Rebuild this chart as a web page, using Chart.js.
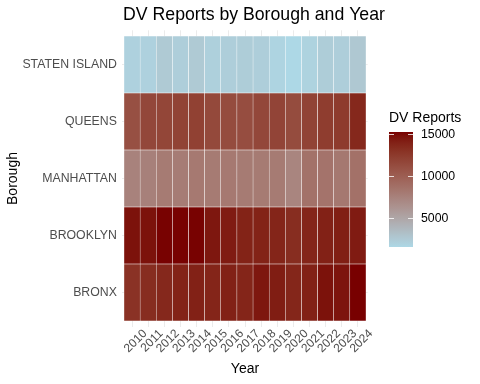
<!DOCTYPE html>
<html>
<head>
<meta charset="utf-8">
<script src="https://cdn.jsdelivr.net/npm/chart.js@4.4.0/dist/chart.umd.min.js"></script>
<style>
  html, body { margin: 0; padding: 0; background: #fff; }
</style>
</head>
<body>
<canvas id="graphCanvas" width="480" height="384"></canvas>
<script>
// data
var years = ["2010", "2011", "2012", "2013", "2014", "2015", "2016", "2017",
             "2018", "2019", "2020", "2021", "2022", "2023", "2024"];
var boroughs = ["BRONX", "BROOKLYN", "MANHATTAN", "QUEENS", "STATEN ISLAND"];

var bronx        = [13000, 13300, 13600, 13900, 14000, 13800, 14000, 13800, 14500, 14200, 13700, 14000, 14700, 14600, 15250];
var brooklyn     = [14700, 14700, 15200, 15200, 15200, 14500, 14300, 13900, 13900, 13800, 13300, 13800, 14000, 14100, 14300];
var manhattan    = [7500, 7600, 8000, 7900, 8100, 8000, 8100, 8000, 8000, 8000, 7300, 8600, 8500, 8200, 8700];
var queens       = [11000, 11600, 11700, 11900, 12000, 11500, 11300, 11200, 11600, 11800, 11300, 11900, 12300, 12400, 13600];
var statenIsland = [2000, 2000, 2500, 2200, 2500, 2100, 2200, 2300, 2200, 1800, 1550, 1900, 2300, 2200, 2600];

var legendTicks = [5000, 10000, 15000];

var series = [bronx, brooklyn, manhattan, queens, statenIsland];

// colour scale light blue -> dark red, interpolated in Lab like ggplot
var lowCol = [173, 216, 230];
var highCol = [120, 0, 0];

function toLin(c) { c = c / 255; return c <= 0.04045 ? c / 12.92 : Math.pow((c + 0.055) / 1.055, 2.4); }
function fromLin(c) {
  var v = c <= 0.0031308 ? 12.92 * c : 1.055 * Math.pow(c, 1 / 2.4) - 0.055;
  return Math.round(Math.max(0, Math.min(1, v)) * 255);
}
function labF(t) { return t > 0.008856 ? Math.cbrt(t) : 7.787 * t + 16 / 116; }
function labFi(t) { return t > 0.206893 ? t * t * t : (t - 16 / 116) / 7.787; }

function rgbToLab(c) {
  var r = toLin(c[0]), g = toLin(c[1]), b = toLin(c[2]);
  var x = (0.4124564 * r + 0.3575761 * g + 0.1804375 * b) / 0.95047;
  var y = (0.2126729 * r + 0.7151522 * g + 0.0721750 * b);
  var z = (0.0193339 * r + 0.1191920 * g + 0.9503041 * b) / 1.08883;
  var fx = labF(x), fy = labF(y), fz = labF(z);
  return [116 * fy - 16, 500 * (fx - fy), 200 * (fy - fz)];
}
function labToRgb(l) {
  var fy = (l[0] + 16) / 116, fx = fy + l[1] / 500, fz = fy - l[2] / 200;
  var x = labFi(fx) * 0.95047, y = labFi(fy), z = labFi(fz) * 1.08883;
  var r = 3.2404542 * x - 1.5371385 * y - 0.4985314 * z;
  var g = -0.9692660 * x + 1.8760108 * y + 0.0415560 * z;
  var b = 0.0556434 * x - 0.2040259 * y + 1.0572252 * z;
  return "rgb(" + fromLin(r) + "," + fromLin(g) + "," + fromLin(b) + ")";
}

var lowLab = rgbToLab(lowCol), highLab = rgbToLab(highCol);
var allVals = [].concat.apply([], series);
var vMin = Math.min.apply(null, allVals);
var vMax = Math.max.apply(null, allVals);

function colorFor(v) {
  var t = (v - vMin) / (vMax - vMin);
  return labToRgb([0, 1, 2].map(function (k) { return lowLab[k] + (highLab[k] - lowLab[k]) * t; }));
}

var datasets = [];
for (var r = 0; r < boroughs.length; r++) {
  datasets.push({
    label: boroughs[r],
    data: years.map(function (y, i) { return { x: i + 0.5, y: [r, r + 1] }; }),
    backgroundColor: series[r].map(colorFor),
    borderColor: 'rgba(255,255,255,0.9)',
    borderWidth: 0.5,
    borderSkipped: false,
    grouped: false,
    barPercentage: 1,
    categoryPercentage: 1
  });
}

var font = '"Liberation Sans", Arial, sans-serif';

// title and colour bar legend
var decor = {
  id: 'decor',
  afterDraw: function (chart) {
    var ctx = chart.ctx;
    ctx.save();
    ctx.fillStyle = '#000';
    ctx.font = '17.7px ' + font;
    ctx.textAlign = 'center';
    ctx.textBaseline = 'middle';
    ctx.fillText("DV Reports by Borough and Year", 254, 15);

    ctx.font = '14px ' + font;
    ctx.textAlign = 'left';
    ctx.fillText("DV Reports", 389, 118);

    var bx = 389, bw = 24, top = 132, bot = 247;
    var grad = ctx.createLinearGradient(0, bot, 0, top);
    for (var s = 0; s <= 30; s++) {
      grad.addColorStop(s / 30, colorFor(vMin + (vMax - vMin) * s / 30));
    }
    ctx.fillStyle = grad;
    ctx.fillRect(bx, top, bw, bot - top);

    ctx.font = '12.3px ' + font;
    ctx.fillStyle = '#000';
    ctx.strokeStyle = 'rgba(255,255,255,0.8)';
    ctx.lineWidth = 1;
    legendTicks.forEach(function (v) {
      var y = Math.round(bot - (v - vMin) / (vMax - vMin) * (bot - top)) + 0.5;
      ctx.beginPath();
      ctx.moveTo(bx, y); ctx.lineTo(bx + 5, y);
      ctx.moveTo(bx + bw - 5, y); ctx.lineTo(bx + bw, y);
      ctx.stroke();
      ctx.fillText(String(v), 421, y);
    });
    ctx.restore();
  }
};

var canvas = document.getElementById('graphCanvas').getContext('2d');

var chart = new Chart(canvas, {
  type: 'bar',
  data: { datasets: datasets },
  plugins: [decor],
  options: {
    responsive: false,
    animation: false,
    layout: { padding: { left: 0, top: 30.3, right: 112.4, bottom: 0 } },
    plugins: { legend: { display: false }, tooltip: { enabled: false }, title: { display: false } },
    scales: {
      x: {
        type: 'linear',
        offset: false,
        min: -0.1,
        max: 15.1,
        afterBuildTicks: function (scale) {
          scale.ticks = years.map(function (y, i) { return { value: i + 0.5 }; });
        },
        afterFit: function (scale) {
          scale.height = 57.3;
          scale.paddingLeft = 0;
          scale.paddingRight = 0;
        },
        grid: { color: '#EBEBEB', drawTicks: false, offset: false },
        border: { display: false },
        ticks: {
          autoSkip: false,
          minRotation: 45,
          maxRotation: 45,
          padding: 0,
          labelOffset: 13,
          color: '#4D4D4D',
          font: { family: font, size: 12 },
          callback: function (v, i) { return years[i]; }
        },
        title: {
          display: true,
          text: 'Year',
          color: '#000',
          font: { family: font, size: 14 },
          padding: { top: 0, bottom: 6 }
        }
      },
      y: {
        type: 'linear',
        min: -0.1,
        max: 5.1,
        afterBuildTicks: function (scale) {
          scale.ticks = boroughs.map(function (b, i) { return { value: i + 0.5 }; });
        },
        afterFit: function (scale) {
          scale.width = 122.4;
          scale.paddingTop = 0;
          scale.paddingBottom = 0;
        },
        grid: { color: '#EBEBEB', drawTicks: false },
        border: { display: false },
        ticks: {
          padding: 5.5,
          color: '#4D4D4D',
          font: { family: font, size: 12.3 },
          callback: function (v, i) { return boroughs[i]; }
        },
        title: {
          display: true,
          text: 'Borough',
          color: '#000',
          font: { family: font, size: 14 },
          padding: { top: 5, bottom: 0 }
        }
      }
    }
  }
});
</script>
</body>
</html>
